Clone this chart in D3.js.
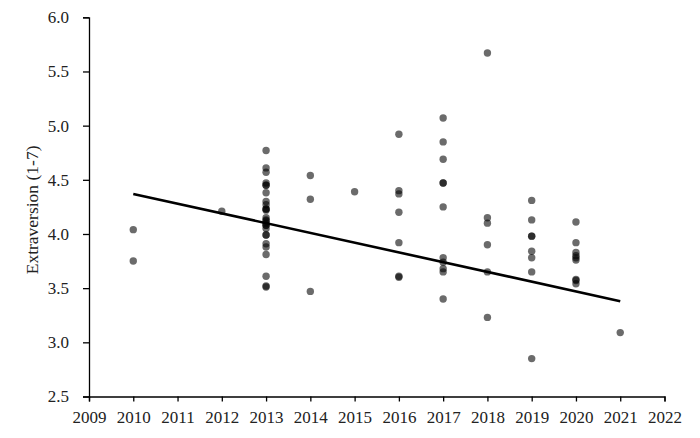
<!DOCTYPE html>
<html>
<head>
<meta charset="utf-8">
<script src="https://cdn.jsdelivr.net/npm/d3@7"></script>
<style>
  body { margin: 0; background: #fff; }
  svg { display: block; }
  text { font-family: "Liberation Serif", "Times New Roman", serif; fill: #222; }
</style>
</head>
<body>
<svg width="700" height="438"></svg>
<script>
// study years that have points
const studyYears = [2010, 2012, 2013, 2014, 2015, 2016, 2017, 2018, 2019, 2020, 2021];
// mean extraversion per sample, one list per study year
const extraversionByYear = [
  [4.04, 3.75],
  [4.21],
  [4.77, 4.61, 4.57, 4.47, 4.45, 4.45, 4.38, 4.30, 4.27, 4.23, 4.23, 4.22, 4.15,
   4.13, 4.12, 4.10, 4.08, 4.08, 4.05, 3.99, 3.99, 3.91, 3.88, 3.81, 3.61, 3.52, 3.51],
  [4.54, 4.32, 3.47],
  [4.39],
  [4.92, 4.40, 4.37, 4.20, 3.92, 3.61, 3.60],
  [5.07, 4.85, 4.69, 4.47, 4.47, 4.25, 3.78, 3.74, 3.68, 3.65, 3.40],
  [5.67, 4.15, 4.10, 3.90, 3.65, 3.23],
  [4.31, 4.13, 3.98, 3.98, 3.84, 3.78, 3.65, 2.85],
  [4.11, 3.92, 3.83, 3.80, 3.78, 3.76, 3.58, 3.57, 3.54],
  [3.09]
];
// fitted trend line end points
const trendYears = [2010, 2021];
const trendValues = [4.37, 3.38];

const xTicks = d3.range(2009, 2023);
const yTicks = [2.5, 3.0, 3.5, 4.0, 4.5, 5.0, 5.5, 6.0];

const svg = d3.select("svg");
const x = d3.scaleLinear().domain([2009, 2022]).range([89, 664.5]);
const y = d3.scaleLinear().domain([2.5, 6.0]).range([396.5, 17.3]);

// axes
const xAxis = svg.append("g")
  .attr("transform", `translate(0,${y(2.5)})`)
  .call(d3.axisBottom(x).tickValues(xTicks).tickFormat(d3.format("d")).tickSizeOuter(0).tickSize(5).tickPadding(9));
const yAxis = svg.append("g")
  .attr("transform", `translate(${x(2009)},0)`)
  .call(d3.axisLeft(y).tickValues(yTicks).tickFormat(d3.format(".1f")).tickSizeOuter(0).tickSize(6).tickPadding(14));

[xAxis, yAxis].forEach(g => {
  g.attr("font-family", null);
  g.select(".domain").attr("stroke", "#000").attr("stroke-width", 1.3);
  g.selectAll(".tick line").attr("stroke", "#000").attr("stroke-width", 1.3);
  g.selectAll(".tick text").attr("font-size", 17).attr("fill", "#222");
});

svg.append("text")
  .attr("transform", `translate(38,${(y(2.5) + y(6.0)) / 2 + 3}) rotate(-90)`)
  .attr("text-anchor", "middle")
  .attr("font-size", 17.5)
  .text("Extraversion (1-7)");

// points
const pts = studyYears.flatMap((yr, i) => extraversionByYear[i].map(v => ({ year: yr, value: v })));
svg.append("g")
  .selectAll("circle")
  .data(pts)
  .enter()
  .append("circle")
  .attr("cx", d => x(d.year))
  .attr("cy", d => y(d.value))
  .attr("r", 3.7)
  .attr("fill", "#000")
  .attr("fill-opacity", 0.58);

// trend line
const line = d3.line().x(d => x(d[0])).y(d => y(d[1]));
svg.append("path")
  .datum(trendYears.map((yr, i) => [yr, trendValues[i]]))
  .attr("d", line)
  .attr("fill", "none")
  .attr("stroke", "#000")
  .attr("stroke-width", 2.6);
</script>
</body>
</html>
